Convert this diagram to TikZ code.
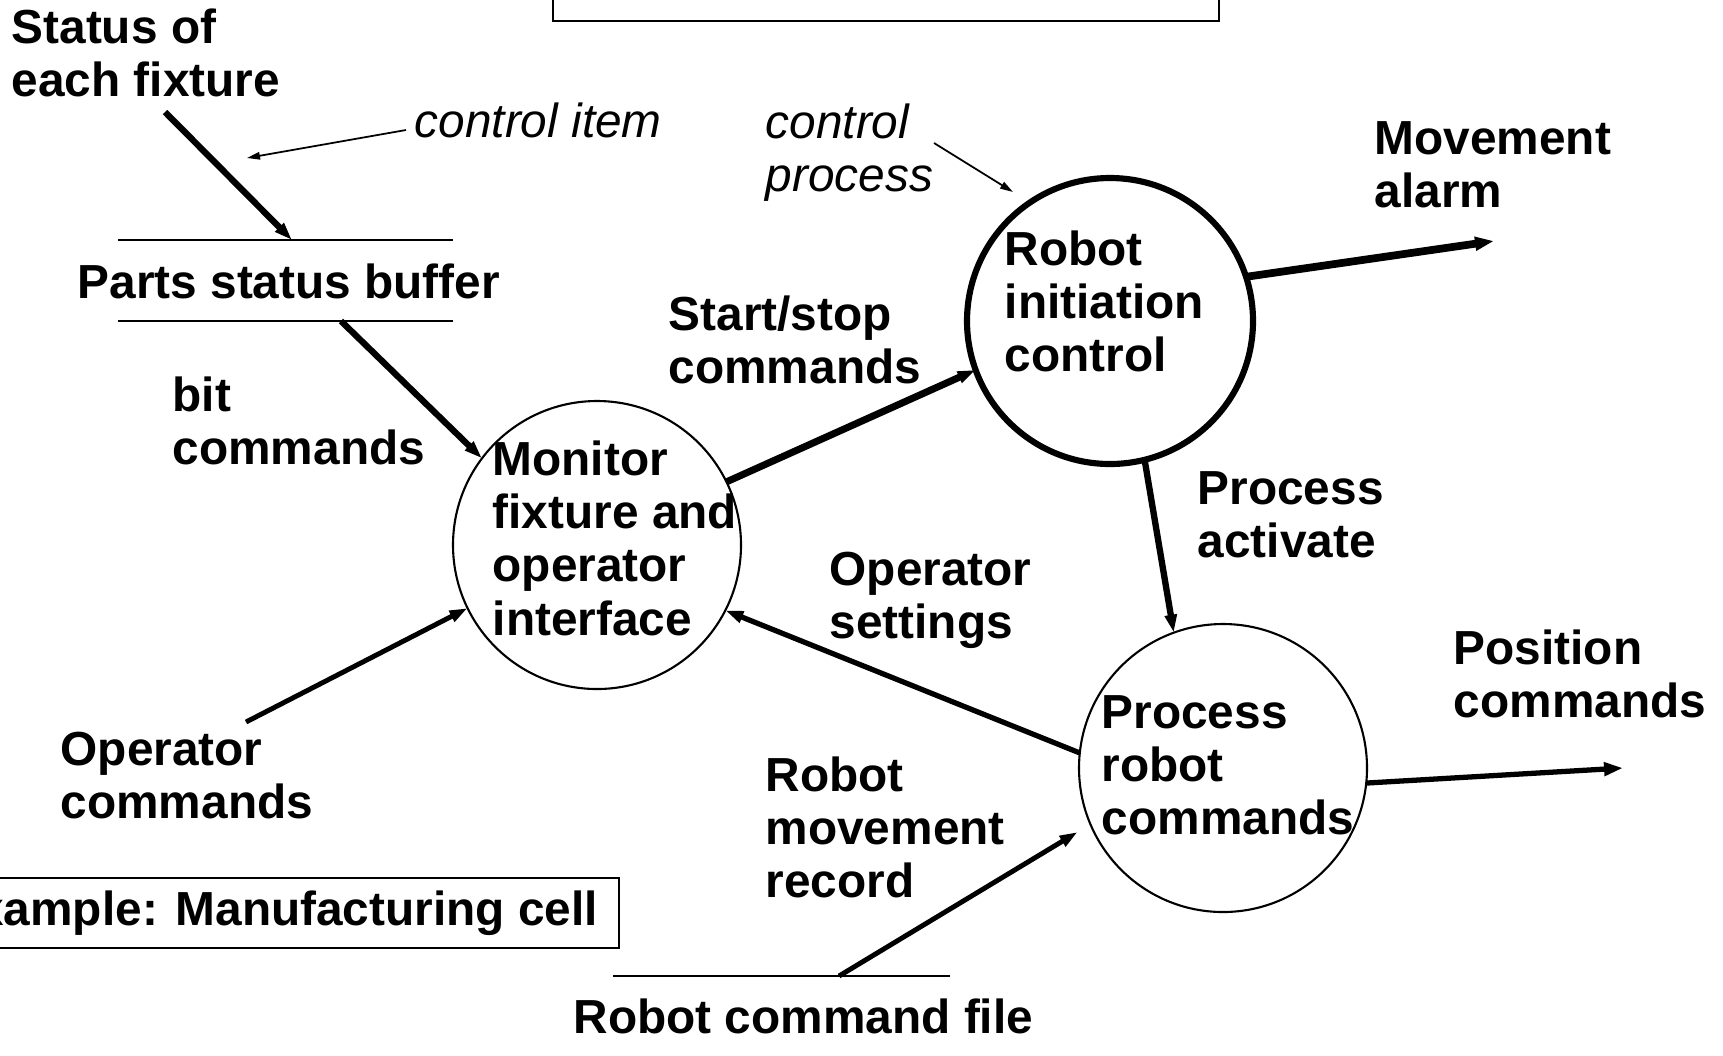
\documentclass[tikz,border=0pt]{standalone}
\usepackage{fontspec}
\setmainfont{Liberation Sans}
\usetikzlibrary{arrows.meta,calc}
\newcommand\mlines[1]{\begin{tabular}[t]{@{}l@{}}#1\end{tabular}}
\begin{document}
\begin{tikzpicture}[x=0.1mm,y=-0.1mm,
  txt/.style={anchor=base west, inner sep=0pt, font=\fontsize{13.6pt}{15.2pt}\selectfont\bfseries},
  itxt/.style={anchor=base west, inner sep=0pt, font=\fontsize{13.6pt}{15.2pt}\selectfont\itshape},
  proc/.style={circle, draw, minimum size=28.8mm, inner sep=0pt, outer sep=0pt, line width=0.6pt},
  flow/.style={-{Triangle[length=1.8mm,width=1.15mm]}},
  bigflow/.style={-{Triangle[length=1.9mm,width=1.3mm]}},
  thinflow/.style={-{Triangle[length=1.3mm,width=0.75mm]}},
  store/.style={line width=0.6pt},
  frame/.style={draw, line width=0.6pt}
]
\useasboundingbox (0,0) rectangle (1723,1055);
\clip (0,0) rectangle (1723,1055);

% top box (cut off)
\draw[line width=0.6pt] (553,-80) rectangle (1219,21);

% process circles
\node[proc] (mon) at (597,545) {};
\node[proc, line width=1.75pt, minimum size=28.6mm] (ric) at (1110,321) {};
\node[proc] (prc) at (1223,768) {};

% text labels
\node[txt] (stat) at (11,43) {\mlines{Status of\\each fixture}};
\node[itxt] (ci) at (414,137) {control item};
\node[txt] (buf) at (77,298) {Parts status buffer};
\node[itxt] (cp) at (765,138) {\mlines{control\\process}};
\node[txt] (ma) at (1374,154) {\mlines{Movement\\alarm}};
\node[txt] (rict) at (1004,265) {\mlines{Robot\\initiation\\control}};
\node[txt] (ss) at (668,330) {\mlines{Start/stop\\commands}};
\node[txt] (bc) at (172,411) {\mlines{bit\\commands}};
\node[txt] (mont) at (492,475) {\mlines{Monitor\\fixture and\\operator\\interface}};
\node[txt] (pa) at (1197,504) {\mlines{Process\\activate}};
\node[txt] (os) at (829,585) {\mlines{Operator\\settings}};
\node[txt] (pc) at (1453,664) {\mlines{Position\\commands}};
\node[txt] (oc) at (60,765) {\mlines{Operator\\commands}};
\node[txt] (prct) at (1101,728) {\mlines{Process\\robot\\commands}};
\node[txt] (rmr) at (765,791) {\mlines{Robot\\movement\\record}};
\node[txt] (rcf) at (573,1033) {Robot command file};
\node[frame, anchor=east, minimum height=7mm, inner xsep=2.1mm, inner ysep=0pt,
      font=\fontsize{13.6pt}{15.2pt}\selectfont\bfseries] (ex) at (620,913) {Example: Manufacturing cell};

% data stores
\coordinate (b1l) at (118,240); \coordinate (b1r) at (453,240);
\coordinate (b2l) at (118,321); \coordinate (b2r) at (453,321);
\draw[store] (b1l) -- (b1r);
\draw[store] (b2l) -- (b2r);
\coordinate (f1l) at (613,976); \coordinate (f1r) at (950,976);
\draw[store] (f1l) -- (f1r);

% free ends
\coordinate (sfs) at (165,112);
\coordinate (buftop) at (292,240);
\coordinate (bufbot) at (341,321);
\coordinate (ocs) at (246,722);
\coordinate (mae) at (1494,241);
\coordinate (pce) at (1623,768);
\coordinate (rcfs) at (839,976);
\coordinate (cis) at (406,130);
\coordinate (cie) at (247,158);
\coordinate (cps) at (934,143);
\coordinate (cpe) at (1013,192);

% connectors
\draw[flow, line width=1.8pt] (sfs) -- (buftop);
\draw[flow, line width=1.8pt] (bufbot) -- (mon.143);
\draw[flow, line width=1.4pt] (ocs) -- (mon.206.7);
\draw[flow, line width=2pt] (mon.26.7) -- (ric.200.4);
\draw[flow, line width=1.5pt] (prc.174.1) -- (mon.333.4);
\draw[flow, line width=1.8pt] (ric.284) -- (prc.110.6);
\draw[bigflow, line width=2.2pt] (ric.18.2) -- (mae);
\draw[bigflow, line width=1.5pt] (prc.354.1) -- (pce);
\draw[flow, line width=1.4pt, shorten >=1.5mm] (rcfs) -- (prc.203.4);
\draw[thinflow, line width=0.5pt] (cis) -- (cie);
\draw[thinflow, line width=0.5pt] (cps) -- (cpe);
\end{tikzpicture}
\end{document}
